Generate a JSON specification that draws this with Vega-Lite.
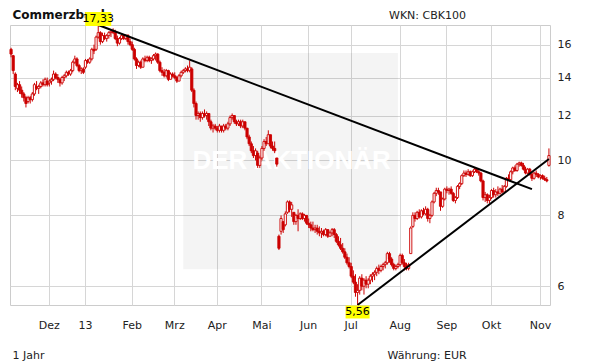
{
"$schema":"https://vega.github.io/schema/vega-lite/v6.json",
"width":540,"height":280,
"autosize":{"type":"none"},
"padding":{"left":10,"top":25,"right":61,"bottom":59},
"background":"white",
"config":{"font":"DejaVu Sans","view":{"stroke":"#cccccc","strokeWidth":1},
"axis":{"domain":false,"ticks":false,"tickSize":0,"gridColor":"#d6d6d6","gridWidth":1,"labelColor":"#222222","labelFontSize":11,"labelFont":"DejaVu Sans","titleFont":"DejaVu Sans","titleFontWeight":"normal","titleFontSize":11,"titleColor":"#222222"}},
"title":{"text":"WKN: CBK100","anchor":"start","frame":"group","fontSize":11,"fontWeight":"normal","color":"#222222","offset":5,"dx":379,"dy":18},
"datasets":{
"px":[
{"d":"2012-11-07","o":15.7,"h":15.8,"l":15.2,"c":15.4},
{"d":"2012-11-08","o":15.3,"h":15.35,"l":14.2,"c":14.4},
{"d":"2012-11-09","o":14.2,"h":14.3,"l":13.3,"c":13.5},
{"d":"2012-11-12","o":13.4,"h":13.7,"l":13.2,"c":13.6},
{"d":"2012-11-13","o":13.6,"h":13.8,"l":13.1,"c":13.3},
{"d":"2012-11-14","o":13.3,"h":13.5,"l":12.9,"c":13.1},
{"d":"2012-11-15","o":13.1,"h":13.2,"l":12.7,"c":12.9},
{"d":"2012-11-16","o":12.9,"h":13.0,"l":12.4,"c":12.6},
{"d":"2012-11-19","o":12.7,"h":13.0,"l":12.6,"c":12.9},
{"d":"2012-11-20","o":12.9,"h":13.0,"l":12.6,"c":12.8},
{"d":"2012-11-21","o":12.8,"h":13.2,"l":12.7,"c":13.1},
{"d":"2012-11-22","o":13.1,"h":13.7,"l":13.0,"c":13.6},
{"d":"2012-11-23","o":13.5,"h":13.8,"l":13.3,"c":13.4},
{"d":"2012-11-26","o":13.4,"h":13.6,"l":13.1,"c":13.5},
{"d":"2012-11-27","o":13.5,"h":13.8,"l":13.4,"c":13.7},
{"d":"2012-11-28","o":13.7,"h":13.9,"l":13.5,"c":13.6},
{"d":"2012-11-29","o":13.6,"h":14.0,"l":13.5,"c":13.9},
{"d":"2012-11-30","o":13.8,"h":14.0,"l":13.5,"c":13.6},
{"d":"2012-12-03","o":13.7,"h":13.9,"l":13.5,"c":13.8},
{"d":"2012-12-04","o":13.8,"h":14.0,"l":13.6,"c":13.9},
{"d":"2012-12-05","o":13.9,"h":14.4,"l":13.8,"c":14.2},
{"d":"2012-12-06","o":14.2,"h":14.3,"l":13.9,"c":14.0},
{"d":"2012-12-07","o":14.0,"h":14.2,"l":13.7,"c":13.9},
{"d":"2012-12-10","o":13.9,"h":14.0,"l":13.5,"c":13.7},
{"d":"2012-12-11","o":13.7,"h":14.1,"l":13.6,"c":14.0},
{"d":"2012-12-12","o":14.0,"h":14.2,"l":13.8,"c":14.1},
{"d":"2012-12-13","o":14.1,"h":14.4,"l":14.0,"c":14.3},
{"d":"2012-12-14","o":14.3,"h":14.4,"l":14.1,"c":14.2},
{"d":"2012-12-17","o":14.2,"h":14.5,"l":14.1,"c":14.4},
{"d":"2012-12-18","o":14.4,"h":15.0,"l":14.3,"c":14.9},
{"d":"2012-12-19","o":14.9,"h":15.3,"l":14.8,"c":15.1},
{"d":"2012-12-20","o":15.1,"h":15.2,"l":14.6,"c":14.7},
{"d":"2012-12-21","o":14.7,"h":14.8,"l":14.3,"c":14.4},
{"d":"2012-12-27","o":14.4,"h":14.6,"l":14.2,"c":14.5},
{"d":"2012-12-28","o":14.5,"h":14.6,"l":14.2,"c":14.3},
{"d":"2013-01-02","o":14.6,"h":15.1,"l":14.5,"c":15.0},
{"d":"2013-01-03","o":15.0,"h":15.1,"l":14.8,"c":14.9},
{"d":"2013-01-04","o":14.9,"h":15.2,"l":14.8,"c":15.1},
{"d":"2013-01-07","o":15.1,"h":15.8,"l":15.0,"c":15.7},
{"d":"2013-01-08","o":15.7,"h":16.0,"l":15.4,"c":15.6},
{"d":"2013-01-09","o":15.7,"h":16.6,"l":15.6,"c":16.5},
{"d":"2013-01-10","o":16.5,"h":17.33,"l":16.4,"c":16.8},
{"d":"2013-01-11","o":16.8,"h":16.9,"l":16.0,"c":16.2},
{"d":"2013-01-14","o":16.2,"h":16.8,"l":16.1,"c":16.6},
{"d":"2013-01-15","o":16.6,"h":16.8,"l":16.3,"c":16.4},
{"d":"2013-01-16","o":16.4,"h":16.7,"l":16.2,"c":16.6},
{"d":"2013-01-17","o":16.6,"h":16.9,"l":16.4,"c":16.8},
{"d":"2013-01-18","o":16.8,"h":17.0,"l":16.5,"c":16.9},
{"d":"2013-01-21","o":16.9,"h":17.1,"l":16.7,"c":16.8},
{"d":"2013-01-22","o":16.8,"h":17.0,"l":16.3,"c":16.4},
{"d":"2013-01-23","o":16.4,"h":16.6,"l":15.9,"c":16.1},
{"d":"2013-01-24","o":16.1,"h":16.5,"l":16.0,"c":16.4},
{"d":"2013-01-25","o":16.4,"h":16.7,"l":16.3,"c":16.6},
{"d":"2013-01-28","o":16.6,"h":16.7,"l":16.3,"c":16.4},
{"d":"2013-01-29","o":16.4,"h":16.7,"l":16.3,"c":16.6},
{"d":"2013-01-30","o":16.6,"h":16.7,"l":16.0,"c":16.2},
{"d":"2013-01-31","o":16.2,"h":16.4,"l":15.9,"c":16.0},
{"d":"2013-02-01","o":16.0,"h":16.2,"l":15.6,"c":15.7},
{"d":"2013-02-04","o":15.7,"h":15.8,"l":15.0,"c":15.1},
{"d":"2013-02-05","o":15.1,"h":15.2,"l":14.5,"c":14.7},
{"d":"2013-02-06","o":14.7,"h":15.0,"l":14.6,"c":14.9},
{"d":"2013-02-07","o":14.9,"h":15.0,"l":14.5,"c":14.6},
{"d":"2013-02-08","o":14.6,"h":15.2,"l":14.6,"c":15.1},
{"d":"2013-02-11","o":15.1,"h":15.3,"l":14.9,"c":15.0},
{"d":"2013-02-12","o":15.0,"h":15.3,"l":14.9,"c":15.2},
{"d":"2013-02-13","o":15.2,"h":15.3,"l":14.9,"c":15.0},
{"d":"2013-02-14","o":15.0,"h":15.2,"l":14.8,"c":15.1},
{"d":"2013-02-15","o":15.1,"h":15.4,"l":15.0,"c":15.3},
{"d":"2013-02-18","o":15.3,"h":15.5,"l":15.0,"c":15.4},
{"d":"2013-02-19","o":15.4,"h":15.45,"l":14.8,"c":14.9},
{"d":"2013-02-20","o":14.9,"h":15.0,"l":14.3,"c":14.4},
{"d":"2013-02-21","o":14.4,"h":14.6,"l":14.1,"c":14.3},
{"d":"2013-02-22","o":14.3,"h":14.5,"l":14.0,"c":14.1},
{"d":"2013-02-25","o":14.1,"h":14.5,"l":14.0,"c":14.4},
{"d":"2013-02-26","o":14.4,"h":14.45,"l":13.8,"c":13.9},
{"d":"2013-02-27","o":13.9,"h":14.3,"l":13.9,"c":14.2},
{"d":"2013-02-28","o":14.2,"h":14.3,"l":14.0,"c":14.1},
{"d":"2013-03-01","o":14.1,"h":14.3,"l":13.9,"c":14.0},
{"d":"2013-03-04","o":14.0,"h":14.1,"l":13.7,"c":13.8},
{"d":"2013-03-05","o":13.8,"h":14.2,"l":13.8,"c":14.1},
{"d":"2013-03-06","o":14.1,"h":14.4,"l":14.0,"c":14.3},
{"d":"2013-03-07","o":14.3,"h":14.5,"l":14.2,"c":14.4},
{"d":"2013-03-08","o":14.4,"h":14.6,"l":14.3,"c":14.5},
{"d":"2013-03-11","o":14.5,"h":14.7,"l":14.3,"c":14.4},
{"d":"2013-03-12","o":14.4,"h":15.0,"l":14.3,"c":14.6},
{"d":"2013-03-13","o":14.5,"h":14.6,"l":13.2,"c":13.3},
{"d":"2013-03-14","o":13.3,"h":13.4,"l":12.4,"c":12.6},
{"d":"2013-03-15","o":12.6,"h":12.7,"l":11.8,"c":12.0},
{"d":"2013-03-18","o":12.0,"h":12.2,"l":11.8,"c":12.1},
{"d":"2013-03-19","o":12.1,"h":12.2,"l":11.7,"c":11.9},
{"d":"2013-03-20","o":11.9,"h":12.2,"l":11.8,"c":12.1},
{"d":"2013-03-21","o":12.1,"h":12.3,"l":11.9,"c":12.0},
{"d":"2013-03-22","o":12.0,"h":12.2,"l":11.8,"c":12.1},
{"d":"2013-03-25","o":12.1,"h":12.1,"l":11.5,"c":11.7},
{"d":"2013-03-26","o":11.7,"h":11.8,"l":11.3,"c":11.4},
{"d":"2013-03-27","o":11.4,"h":11.6,"l":11.2,"c":11.5},
{"d":"2013-03-28","o":11.5,"h":11.6,"l":11.3,"c":11.4},
{"d":"2013-04-02","o":11.4,"h":11.5,"l":11.2,"c":11.3},
{"d":"2013-04-03","o":11.3,"h":11.6,"l":11.2,"c":11.5},
{"d":"2013-04-04","o":11.5,"h":11.5,"l":11.2,"c":11.3},
{"d":"2013-04-05","o":11.3,"h":11.6,"l":11.2,"c":11.5},
{"d":"2013-04-08","o":11.5,"h":11.6,"l":11.3,"c":11.4},
{"d":"2013-04-09","o":11.4,"h":11.7,"l":11.3,"c":11.6},
{"d":"2013-04-10","o":11.6,"h":12.0,"l":11.5,"c":11.9},
{"d":"2013-04-11","o":11.9,"h":12.1,"l":11.8,"c":12.0},
{"d":"2013-04-12","o":12.0,"h":12.0,"l":11.6,"c":11.7},
{"d":"2013-04-15","o":11.7,"h":11.8,"l":11.5,"c":11.6},
{"d":"2013-04-16","o":11.6,"h":11.8,"l":11.5,"c":11.7},
{"d":"2013-04-17","o":11.7,"h":11.8,"l":11.4,"c":11.5},
{"d":"2013-04-18","o":11.5,"h":11.8,"l":11.4,"c":11.7},
{"d":"2013-04-19","o":11.7,"h":11.7,"l":11.3,"c":11.4},
{"d":"2013-04-22","o":11.4,"h":11.4,"l":10.9,"c":11.0},
{"d":"2013-04-23","o":11.0,"h":11.1,"l":10.6,"c":10.7},
{"d":"2013-04-24","o":10.7,"h":10.8,"l":10.3,"c":10.4},
{"d":"2013-04-25","o":10.4,"h":10.6,"l":10.1,"c":10.2},
{"d":"2013-04-26","o":10.2,"h":10.5,"l":10.0,"c":10.4},
{"d":"2013-04-29","o":10.3,"h":10.4,"l":9.7,"c":9.8},
{"d":"2013-04-30","o":9.8,"h":10.2,"l":9.7,"c":10.1},
{"d":"2013-05-02","o":10.1,"h":10.6,"l":10.0,"c":10.5},
{"d":"2013-05-03","o":10.5,"h":10.9,"l":10.4,"c":10.8},
{"d":"2013-05-06","o":10.8,"h":11.0,"l":10.6,"c":10.7},
{"d":"2013-05-07","o":10.7,"h":11.3,"l":10.7,"c":11.1},
{"d":"2013-05-08","o":11.1,"h":11.1,"l":10.5,"c":10.6},
{"d":"2013-05-09","o":10.6,"h":10.8,"l":10.4,"c":10.5},
{"d":"2013-05-10","o":10.5,"h":10.8,"l":10.3,"c":10.4},
{"d":"2013-05-13","o":10.1,"h":10.1,"l":9.75,"c":9.85},
{"d":"2013-05-14","o":7.35,"h":7.4,"l":6.95,"c":7.0},
{"d":"2013-05-15","o":7.5,"h":8.0,"l":7.4,"c":7.9},
{"d":"2013-05-16","o":7.8,"h":7.8,"l":7.45,"c":7.55},
{"d":"2013-05-17","o":7.7,"h":8.13,"l":7.65,"c":8.05},
{"d":"2013-05-20","o":8.1,"h":8.5,"l":8.05,"c":8.45},
{"d":"2013-05-21","o":8.45,"h":8.5,"l":8.1,"c":8.2},
{"d":"2013-05-22","o":8.2,"h":8.45,"l":7.95,"c":8.35},
{"d":"2013-05-23","o":8.1,"h":8.1,"l":7.7,"c":7.8},
{"d":"2013-05-24","o":7.8,"h":8.05,"l":7.7,"c":8.0},
{"d":"2013-05-27","o":8.0,"h":8.2,"l":7.5,"c":7.9},
{"d":"2013-05-28","o":7.9,"h":8.1,"l":7.85,"c":8.05},
{"d":"2013-05-29","o":8.05,"h":8.1,"l":7.85,"c":7.9},
{"d":"2013-05-30","o":7.9,"h":8.05,"l":7.8,"c":8.0},
{"d":"2013-05-31","o":8.0,"h":8.0,"l":7.7,"c":7.75},
{"d":"2013-06-03","o":7.75,"h":7.9,"l":7.6,"c":7.7},
{"d":"2013-06-04","o":7.7,"h":7.8,"l":7.5,"c":7.6},
{"d":"2013-06-05","o":7.6,"h":7.8,"l":7.5,"c":7.55},
{"d":"2013-06-06","o":7.55,"h":7.7,"l":7.45,"c":7.6},
{"d":"2013-06-07","o":7.6,"h":7.7,"l":7.4,"c":7.5},
{"d":"2013-06-10","o":7.5,"h":7.65,"l":7.35,"c":7.45},
{"d":"2013-06-11","o":7.45,"h":7.6,"l":7.3,"c":7.5},
{"d":"2013-06-12","o":7.5,"h":7.55,"l":7.35,"c":7.4},
{"d":"2013-06-13","o":7.4,"h":7.6,"l":7.35,"c":7.55},
{"d":"2013-06-14","o":7.55,"h":7.55,"l":7.3,"c":7.35},
{"d":"2013-06-17","o":7.35,"h":7.5,"l":7.35,"c":7.45},
{"d":"2013-06-18","o":7.45,"h":7.6,"l":7.35,"c":7.55},
{"d":"2013-06-19","o":7.55,"h":7.6,"l":7.3,"c":7.4},
{"d":"2013-06-20","o":7.4,"h":7.45,"l":7.15,"c":7.2},
{"d":"2013-06-21","o":7.2,"h":7.35,"l":7.05,"c":7.1},
{"d":"2013-06-24","o":7.1,"h":7.3,"l":6.95,"c":7.0},
{"d":"2013-06-25","o":7.0,"h":7.15,"l":6.85,"c":6.9},
{"d":"2013-06-26","o":6.9,"h":7.0,"l":6.7,"c":6.75},
{"d":"2013-06-27","o":6.75,"h":6.85,"l":6.55,"c":6.6},
{"d":"2013-06-28","o":6.6,"h":6.75,"l":6.45,"c":6.5},
{"d":"2013-07-01","o":6.5,"h":6.6,"l":6.2,"c":6.25},
{"d":"2013-07-02","o":6.25,"h":6.4,"l":6.05,"c":6.1},
{"d":"2013-07-03","o":6.1,"h":6.3,"l":5.75,"c":5.85},
{"d":"2013-07-04","o":5.85,"h":6.05,"l":5.56,"c":5.9},
{"d":"2013-07-05","o":5.9,"h":6.25,"l":5.8,"c":6.2},
{"d":"2013-07-08","o":6.2,"h":6.3,"l":5.9,"c":6.0},
{"d":"2013-07-09","o":6.0,"h":6.2,"l":5.8,"c":6.15},
{"d":"2013-07-10","o":6.15,"h":6.25,"l":5.95,"c":6.05},
{"d":"2013-07-11","o":6.05,"h":6.2,"l":5.95,"c":6.15},
{"d":"2013-07-12","o":6.15,"h":6.3,"l":6.05,"c":6.25},
{"d":"2013-07-15","o":6.25,"h":6.35,"l":6.1,"c":6.3},
{"d":"2013-07-16","o":6.3,"h":6.4,"l":6.15,"c":6.35},
{"d":"2013-07-17","o":6.35,"h":6.5,"l":6.25,"c":6.45},
{"d":"2013-07-18","o":6.45,"h":6.55,"l":6.3,"c":6.4},
{"d":"2013-07-19","o":6.4,"h":6.55,"l":6.35,"c":6.5},
{"d":"2013-07-22","o":6.5,"h":6.6,"l":6.4,"c":6.55},
{"d":"2013-07-23","o":6.55,"h":6.65,"l":6.45,"c":6.6},
{"d":"2013-07-24","o":6.6,"h":6.9,"l":6.55,"c":6.85},
{"d":"2013-07-25","o":6.85,"h":6.9,"l":6.6,"c":6.7},
{"d":"2013-07-26","o":6.7,"h":6.75,"l":6.5,"c":6.55},
{"d":"2013-07-29","o":6.55,"h":6.6,"l":6.4,"c":6.45},
{"d":"2013-07-30","o":6.45,"h":6.55,"l":6.4,"c":6.5},
{"d":"2013-07-31","o":6.5,"h":6.6,"l":6.45,"c":6.55},
{"d":"2013-08-01","o":6.55,"h":6.85,"l":6.5,"c":6.8},
{"d":"2013-08-02","o":6.8,"h":6.85,"l":6.55,"c":6.6},
{"d":"2013-08-05","o":6.6,"h":6.7,"l":6.4,"c":6.5},
{"d":"2013-08-06","o":6.5,"h":6.6,"l":6.4,"c":6.45},
{"d":"2013-08-07","o":6.45,"h":6.6,"l":6.4,"c":6.55},
{"d":"2013-08-08","o":6.85,"h":7.65,"l":6.85,"c":7.6},
{"d":"2013-08-09","o":7.65,"h":8.1,"l":7.6,"c":8.0},
{"d":"2013-08-12","o":8.0,"h":8.1,"l":7.8,"c":7.9},
{"d":"2013-08-13","o":7.9,"h":8.15,"l":7.85,"c":8.1},
{"d":"2013-08-14","o":8.1,"h":8.2,"l":7.9,"c":7.95},
{"d":"2013-08-15","o":7.95,"h":8.2,"l":7.9,"c":8.15},
{"d":"2013-08-16","o":8.15,"h":8.25,"l":8.0,"c":8.05},
{"d":"2013-08-19","o":8.05,"h":8.3,"l":8.0,"c":8.2},
{"d":"2013-08-20","o":8.2,"h":8.25,"l":7.8,"c":7.9},
{"d":"2013-08-21","o":7.9,"h":8.05,"l":7.75,"c":8.0},
{"d":"2013-08-22","o":8.0,"h":8.5,"l":7.95,"c":8.45},
{"d":"2013-08-23","o":8.45,"h":8.8,"l":8.4,"c":8.75},
{"d":"2013-08-26","o":8.75,"h":8.95,"l":8.65,"c":8.85},
{"d":"2013-08-27","o":8.85,"h":8.95,"l":8.7,"c":8.8},
{"d":"2013-08-28","o":8.8,"h":8.8,"l":8.15,"c":8.3},
{"d":"2013-08-29","o":8.3,"h":8.6,"l":8.25,"c":8.55},
{"d":"2013-08-30","o":8.55,"h":8.95,"l":8.5,"c":8.9},
{"d":"2013-09-02","o":8.9,"h":9.0,"l":8.75,"c":8.85},
{"d":"2013-09-03","o":8.85,"h":8.95,"l":8.7,"c":8.9},
{"d":"2013-09-04","o":8.9,"h":9.0,"l":8.7,"c":8.75},
{"d":"2013-09-05","o":8.75,"h":8.8,"l":8.45,"c":8.5},
{"d":"2013-09-06","o":8.5,"h":8.65,"l":8.4,"c":8.6},
{"d":"2013-09-09","o":8.6,"h":9.05,"l":8.55,"c":9.0},
{"d":"2013-09-10","o":9.0,"h":9.15,"l":8.9,"c":9.1},
{"d":"2013-09-11","o":9.1,"h":9.45,"l":9.05,"c":9.4},
{"d":"2013-09-12","o":9.4,"h":9.6,"l":9.35,"c":9.5},
{"d":"2013-09-13","o":9.5,"h":9.6,"l":9.35,"c":9.45},
{"d":"2013-09-16","o":9.45,"h":9.65,"l":9.4,"c":9.55},
{"d":"2013-09-17","o":9.55,"h":9.6,"l":9.35,"c":9.4},
{"d":"2013-09-18","o":9.4,"h":9.6,"l":9.35,"c":9.55},
{"d":"2013-09-19","o":9.55,"h":9.7,"l":9.5,"c":9.65},
{"d":"2013-09-20","o":9.65,"h":9.7,"l":9.5,"c":9.55},
{"d":"2013-09-23","o":9.55,"h":9.65,"l":9.4,"c":9.5},
{"d":"2013-09-24","o":9.5,"h":9.55,"l":9.15,"c":9.2},
{"d":"2013-09-25","o":9.2,"h":9.25,"l":8.5,"c":8.6},
{"d":"2013-09-26","o":8.6,"h":8.8,"l":8.45,"c":8.7},
{"d":"2013-09-27","o":8.7,"h":8.75,"l":8.4,"c":8.5},
{"d":"2013-09-30","o":8.5,"h":8.7,"l":8.4,"c":8.6},
{"d":"2013-10-01","o":8.6,"h":8.9,"l":8.55,"c":8.85},
{"d":"2013-10-02","o":8.85,"h":8.95,"l":8.6,"c":8.7},
{"d":"2013-10-03","o":8.7,"h":8.9,"l":8.6,"c":8.8},
{"d":"2013-10-04","o":8.8,"h":9.0,"l":8.65,"c":8.75},
{"d":"2013-10-07","o":8.75,"h":8.95,"l":8.7,"c":8.9},
{"d":"2013-10-08","o":8.9,"h":9.05,"l":8.75,"c":8.8},
{"d":"2013-10-09","o":8.8,"h":9.05,"l":8.75,"c":9.0},
{"d":"2013-10-10","o":9.0,"h":9.35,"l":8.95,"c":9.3},
{"d":"2013-10-11","o":9.3,"h":9.45,"l":9.2,"c":9.25},
{"d":"2013-10-14","o":9.25,"h":9.6,"l":9.2,"c":9.55},
{"d":"2013-10-15","o":9.55,"h":9.75,"l":9.45,"c":9.7},
{"d":"2013-10-16","o":9.7,"h":9.8,"l":9.55,"c":9.6},
{"d":"2013-10-17","o":9.6,"h":9.9,"l":9.55,"c":9.85},
{"d":"2013-10-18","o":9.85,"h":9.95,"l":9.75,"c":9.9},
{"d":"2013-10-21","o":9.9,"h":9.95,"l":9.75,"c":9.8},
{"d":"2013-10-22","o":9.8,"h":9.9,"l":9.6,"c":9.65},
{"d":"2013-10-23","o":9.65,"h":9.75,"l":9.45,"c":9.5},
{"d":"2013-10-24","o":9.5,"h":9.7,"l":9.45,"c":9.65},
{"d":"2013-10-25","o":9.65,"h":9.7,"l":9.4,"c":9.45},
{"d":"2013-10-28","o":9.45,"h":9.55,"l":9.2,"c":9.3},
{"d":"2013-10-29","o":9.3,"h":9.55,"l":9.25,"c":9.5},
{"d":"2013-10-30","o":9.5,"h":9.6,"l":9.35,"c":9.45},
{"d":"2013-10-31","o":9.45,"h":9.5,"l":9.3,"c":9.35},
{"d":"2013-11-01","o":9.35,"h":9.45,"l":9.25,"c":9.4},
{"d":"2013-11-04","o":9.4,"h":9.45,"l":9.25,"c":9.3},
{"d":"2013-11-05","o":9.3,"h":9.4,"l":9.2,"c":9.25},
{"d":"2013-11-06","o":9.25,"h":9.35,"l":9.15,"c":9.2},
{"d":"2013-11-07","o":9.8,"h":10.5,"l":9.75,"c":10.2}
],
"lines":[
{"d":"2013-01-10","v":17.33,"g":"a"},{"d":"2013-10-28","v":8.9,"g":"a"},
{"d":"2013-07-04","v":5.56,"g":"b"},{"d":"2013-11-07","v":10.06,"g":"b"}
]
},
"layer":[
{"data":{"values":[{"d1":"2013-03-07","d2":"2013-07-31","v1":6.43,"v2":15.47}]},
 "mark":{"type":"rect","fill":"#000000","fillOpacity":0.045},
 "encoding":{
  "x":{"field":"d1","type":"ordinal","scale":{"type":"band","paddingInner":0,"paddingOuter":0},"axis":null},
  "x2":{"field":"d2"},
  "y":{"field":"v1","type":"quantitative","scale":{"type":"log","domain":[5.56,17.33],"nice":false,"zero":false},"axis":{"orient":"right","values":[6,8,10,12,14,16],"grid":true,"format":"d","labelPadding":7,"labelOverlap":false,"title":"Währung: EUR","titleAngle":0,"titleX":-163,"titleY":330,"titleAlign":"left","titleBaseline":"middle"}},
  "y2":{"field":"v2"}}},
{"data":{"values":[{"d":"2013-05-22","v":9.97,"t":"DER AKTIONÄR"}]},
 "mark":{"type":"text","color":"#ffffff","font":"Liberation Sans","fontWeight":"bold","fontSize":26,"align":"center","baseline":"middle"},
 "encoding":{
  "x":{"field":"d","type":"ordinal","scale":{"type":"band","paddingInner":0,"paddingOuter":0},"axis":null},
  "y":{"field":"v","type":"quantitative","scale":{"type":"log","domain":[5.56,17.33],"nice":false,"zero":false},"axis":{"orient":"right","values":[6,8,10,12,14,16],"grid":true,"format":"d","labelPadding":7,"labelOverlap":false,"title":"Währung: EUR","titleAngle":0,"titleX":-163,"titleY":330,"titleAlign":"left","titleBaseline":"middle"}},
  "text":{"field":"t"}}},
{"data":{"name":"px"},
 "mark":{"type":"rule","color":"#cc0000","strokeWidth":1},
 "encoding":{
  "x":{"field":"d","type":"ordinal","scale":{"type":"band","paddingInner":0,"paddingOuter":0},
   "axis":{"orient":"bottom","values":["2012-12-03","2013-01-02","2013-02-01","2013-03-01","2013-04-02","2013-05-02","2013-06-03","2013-07-01","2013-08-01","2013-09-02","2013-10-01","2013-11-01"],
   "labelExpr":"['','13','Feb','Mrz','Apr','Mai','Jun','Jul','Aug','Sep','Okt','Nov','Dez'][toNumber(substring(datum.value,5,7))]",
   "grid":true,"bandPosition":0.5,"labelPadding":14,"labelAngle":0,"labelOverlap":false,"title":"1 Jahr","titleX":2,"titleY":50,"titleAlign":"left","titleBaseline":"middle"}},
  "y":{"field":"l","type":"quantitative","scale":{"type":"log","domain":[5.56,17.33],"nice":false,"zero":false},"axis":{"orient":"right","values":[6,8,10,12,14,16],"grid":true,"format":"d","labelPadding":7,"labelOverlap":false,"title":"Währung: EUR","titleAngle":0,"titleX":-163,"titleY":330,"titleAlign":"left","titleBaseline":"middle"}},
  "y2":{"field":"h"}}},
{"data":{"name":"px"},
 "mark":{"type":"bar","width":2.2,"stroke":"#cc0000","strokeWidth":0.9},
 "encoding":{
  "x":{"field":"d","type":"ordinal","scale":{"type":"band","paddingInner":0,"paddingOuter":0},"axis":null},
  "y":{"field":"o","type":"quantitative","scale":{"type":"log","domain":[5.56,17.33],"nice":false,"zero":false},"axis":{"orient":"right","values":[6,8,10,12,14,16],"grid":true,"format":"d","labelPadding":7,"labelOverlap":false,"title":"Währung: EUR","titleAngle":0,"titleX":-163,"titleY":330,"titleAlign":"left","titleBaseline":"middle"}},
  "y2":{"field":"c"},
  "fill":{"condition":{"test":"datum.o > datum.c","value":"#cc0000"},"value":"#ffffff"}}},
{"data":{"name":"lines"},
 "mark":{"type":"line","color":"#000000","strokeWidth":2},
 "encoding":{
  "x":{"field":"d","type":"ordinal","scale":{"type":"band","paddingInner":0,"paddingOuter":0},
   "axis":{"orient":"top","labels":false,"grid":false,"zindex":0,"title":"Commerzbank","titleFontWeight":"bold","titleFontSize":12,"titleColor":"#111111","titleX":2,"titleY":-11,"titleAlign":"left","titleBaseline":"middle"}},
  "y":{"field":"v","type":"quantitative","scale":{"type":"log","domain":[5.56,17.33],"nice":false,"zero":false},"axis":{"orient":"right","values":[6,8,10,12,14,16],"grid":true,"format":"d","labelPadding":7,"labelOverlap":false,"title":"Währung: EUR","titleAngle":0,"titleX":-163,"titleY":330,"titleAlign":"left","titleBaseline":"middle"}},
  "detail":{"field":"g"}}},
{"data":{"values":[{"d":"2013-01-10","v":17.33,"t":"17,33"}]},
 "encoding":{
  "x":{"field":"d","type":"ordinal","scale":{"type":"band","paddingInner":0,"paddingOuter":0},"axis":null},
  "y":{"field":"v","type":"quantitative","scale":{"type":"log","domain":[5.56,17.33],"nice":false,"zero":false},"axis":{"orient":"right","values":[6,8,10,12,14,16],"grid":true,"format":"d","labelPadding":7,"labelOverlap":false,"title":"Währung: EUR","titleAngle":0,"titleX":-163,"titleY":330,"titleAlign":"left","titleBaseline":"middle"}}},
 "layer":[
  {"mark":{"type":"point","shape":"M-1,-0.54H1V0.54H-1Z","size":676,"filled":true,"color":"#ffff00","opacity":1,"yOffset":-6}},
  {"mark":{"type":"text","color":"#000000","fontSize":11,"align":"center","baseline":"middle","yOffset":-6},"encoding":{"text":{"field":"t"}}}
 ]},
{"data":{"values":[{"d":"2013-07-04","v":5.56,"t":"5,56"}]},
 "encoding":{
  "x":{"field":"d","type":"ordinal","scale":{"type":"band","paddingInner":0,"paddingOuter":0},"axis":null},
  "y":{"field":"v","type":"quantitative","scale":{"type":"log","domain":[5.56,17.33],"nice":false,"zero":false},"axis":{"orient":"right","values":[6,8,10,12,14,16],"grid":true,"format":"d","labelPadding":7,"labelOverlap":false,"title":"Währung: EUR","titleAngle":0,"titleX":-163,"titleY":330,"titleAlign":"left","titleBaseline":"middle"}}},
 "layer":[
  {"mark":{"type":"point","shape":"M-1,-0.54H1V0.54H-1Z","size":576,"filled":true,"color":"#ffff00","opacity":1,"yOffset":7}},
  {"mark":{"type":"text","color":"#000000","fontSize":11,"align":"center","baseline":"middle","yOffset":7},"encoding":{"text":{"field":"t"}}}
 ]}
],
"resolve":{"axis":{"x":"independent"}}
}
